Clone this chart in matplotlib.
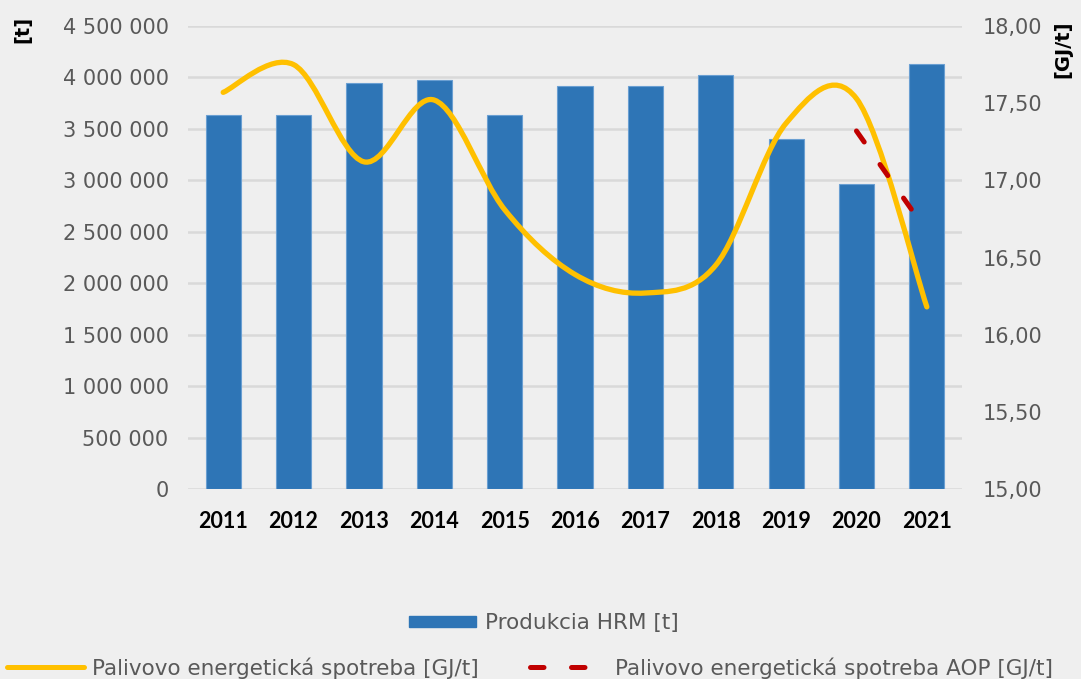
import numpy as np
import matplotlib.pyplot as plt
from matplotlib.path import Path
from matplotlib.patches import PathPatch, Patch
from matplotlib.lines import Line2D
from matplotlib.ticker import FuncFormatter, MultipleLocator

#-------------------- data --------------------

years      = ['2011', '2012', '2013', '2014', '2015', '2016',
              '2017', '2018', '2019', '2020', '2021']
produkcia  = [3635000, 3635000, 3946000, 3972000, 3635000, 3917000,
              3917000, 4023000, 3400000, 2960000, 4130000]     # [t]
spotreba   = [17.57, 17.75, 17.12, 17.52, 16.81, 16.39,
              16.27, 16.45, 17.37, 17.53, 16.18]               # [GJ/t]
aop_years  = ['2020', '2021']
spotreba_aop = [17.32, 16.67]                                  # [GJ/t]

lab_bar  = 'Produkcia HRM [t]'
lab_line = 'Palivovo energetická spotreba [GJ/t]'
lab_aop  = 'Palivovo energetická spotreba AOP [GJ/t]'

#-------------------- colours --------------------

bg     = '#efefef'
blue   = '#2e75b6'
yellow = '#ffc000'
red    = '#c00000'
grey   = '#595959'


def smooth_path(x, y):
    # Excel-like smoothed line: Catmull-Rom segments written as cubic Bezier
    x = np.asarray(x, float)
    y = np.asarray(y, float)
    px = np.concatenate(([x[0]], x, [x[-1]]))
    py = np.concatenate(([y[0]], y, [y[-1]]))
    verts = [(x[0], y[0])]
    codes = [Path.MOVETO]
    for i in range(1, len(x)):
        c1 = (px[i] + (px[i + 1] - px[i - 1]) / 6, py[i] + (py[i + 1] - py[i - 1]) / 6)
        c2 = (px[i + 1] - (px[i + 2] - px[i]) / 6, py[i + 1] - (py[i + 2] - py[i]) / 6)
        verts += [c1, c2, (px[i + 1], py[i + 1])]
        codes += [Path.CURVE4] * 3
    return Path(verts, codes)


#-------------------- the figure --------------------

plt.rcParams['font.family'] = 'DejaVu Sans'

fig = plt.figure(figsize=(10.81, 6.79), dpi=100, facecolor=bg)
ax = fig.add_axes([188 / 1081, 1 - 489 / 679, (962 - 188) / 1081, (489 - 26) / 679])
ax.set_facecolor(bg)

xpos = np.arange(len(years))
ax.bar(xpos, produkcia, width=0.5, color=blue, edgecolor='#6a9fd2', linewidth=0.8, zorder=2)

ax.set_xlim(-0.5, len(years) - 0.5)
ax.set_ylim(0, 4500000)
ax.yaxis.set_major_locator(MultipleLocator(500000))
ax.yaxis.set_major_formatter(FuncFormatter(lambda v, p: f'{int(v):,}'.replace(',', ' ')))
ax.set_xticks(xpos)
ax.set_xticklabels(years, fontsize=15.5, fontweight='bold', family='Lato', color='black')
ax.grid(axis='y', color='#d9d9d9', linewidth=1.8)
ax.set_axisbelow(True)
ax.tick_params(axis='y', length=0, pad=14, labelsize=15, labelcolor=grey)
ax.tick_params(axis='x', length=0, pad=16)
for s in ax.spines.values():
    s.set_visible(False)

ax2 = ax.twinx()
ax2.set_ylim(15.0, 18.0)
ax2.yaxis.set_major_locator(MultipleLocator(0.5))
ax2.yaxis.set_major_formatter(FuncFormatter(lambda v, p: f'{v:.2f}'.replace('.', ',')))
ax2.tick_params(axis='y', length=0, pad=15, labelsize=15, labelcolor=grey)
for s in ax2.spines.values():
    s.set_visible(False)

line_patch = PathPatch(smooth_path(xpos, spotreba), fill=False, edgecolor=yellow,
                       linewidth=3.8, capstyle='round', joinstyle='round', zorder=3)
ax2.add_patch(line_patch)

aop_x = [years.index(y) for y in aop_years]
ax2.plot(aop_x, spotreba_aop, color=red, linewidth=3.6, linestyle=(0, (2.7, 5.5)),
         dash_capstyle='round', zorder=4)

# axis titles at the top corners
fig.text(23 / 1081, 1 - 29 / 679, '[t]', rotation=90, ha='center', va='center',
         fontsize=14, fontweight='bold', color='black')
fig.text(1063 / 1081, 1 - 49 / 679, '[GJ/t]', rotation=90, ha='center', va='center',
         fontsize=14, fontweight='bold', color='black')

# legends
h_bar = Patch(facecolor=blue, edgecolor=blue)
leg1 = fig.legend([h_bar], [lab_bar], loc='center', bbox_to_anchor=(544 / 1081, 1 - 623 / 679),
                  frameon=False, fontsize=15.5, handlelength=3.1, handleheight=0.45,
                  handletextpad=0.4, labelcolor=grey)

h_line = Line2D([], [], color=yellow, linewidth=3.6, solid_capstyle='round')
h_aop = Line2D([], [], color=red, linewidth=3.6, linestyle=(0, (2.7, 5.5)), dash_capstyle='round')
leg2 = fig.legend([h_line, h_aop], [lab_line, lab_aop], loc='center', ncol=2,
                  bbox_to_anchor=(530 / 1081, 1 - 668 / 679), frameon=False, fontsize=15.5,
                  handlelength=3.6, handletextpad=0.35, columnspacing=2.4, labelcolor=grey)

fig.savefig('out.png', dpi=100, facecolor=bg)
